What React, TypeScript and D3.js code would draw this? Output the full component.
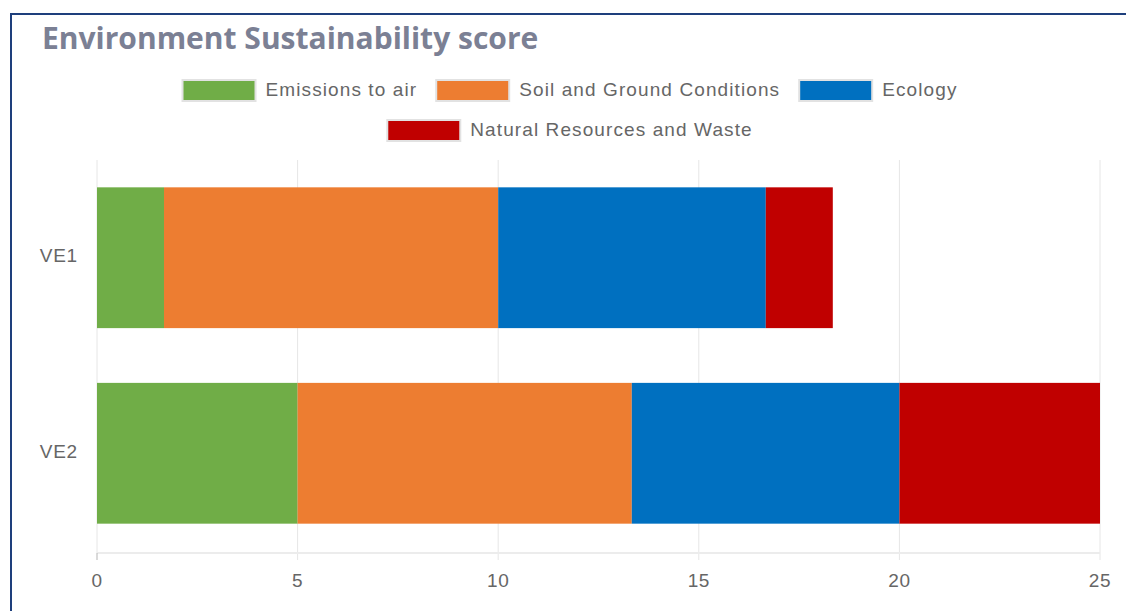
import React, { useEffect, useRef } from 'react';
import * as d3 from 'd3';

const CATEGORIES = ['VE1', 'VE2'];
const SERIES_NAMES = ['Emissions to air', 'Soil and Ground Conditions', 'Ecology', 'Natural Resources and Waste'];
const EMISSIONS = [1.67, 5];
const SOIL = [8.33, 8.33];
const ECOLOGY = [6.67, 6.67];
const NATURAL = [1.67, 5];
const X_TICKS = [0, 5, 10, 15, 20, 25];
const COLORS = ['#70ad47', '#ed7d31', '#0070c0', '#c00000'];

const W = 1126;
const H = 611;
const FONT = 'Arial, "Liberation Sans", Helvetica, sans-serif';

export default function App() {
  const svgRef = useRef<SVGSVGElement>(null);

  useEffect(() => {
    const svg = d3.select(svgRef.current);
    svg.selectAll('*').remove();

    const values = [EMISSIONS, SOIL, ECOLOGY, NATURAL];
    const rows = CATEGORIES.map((c, i) => {
      const o: any = { cat: c };
      SERIES_NAMES.forEach((s, k) => (o[s] = values[k][i]));
      return o;
    });
    const series = d3.stack().keys(SERIES_NAMES)(rows);

    // plot area
    const plot = { left: 97, right: 1100, top: 158, bottom: 553 };

    const x = d3.scaleLinear().domain([0, 25]).range([plot.left, plot.right]);
    const y = d3.scaleBand()
      .domain(CATEGORIES)
      .range([plot.top, plot.bottom])
      .paddingInner(0.28)
      .paddingOuter(0.15);

    svg.append('rect').attr('width', W).attr('height', H).attr('fill', '#fff');

    // frame
    svg.append('rect')
      .attr('x', 11).attr('y', 14)
      .attr('width', W + 40).attr('height', H + 40)
      .attr('fill', 'none')
      .attr('stroke', '#1e3f7c')
      .attr('stroke-width', 2);

    // title
    svg.append('text')
      .attr('x', 42).attr('y', 49)
      .style('font-family', '"Open Sans", sans-serif')
      .style('font-weight', 700)
      .style('font-size', '30px')
      .style('fill', '#7b8094')
      .text('Environment Sustainability score');

    // grid
    const grid = svg.append('g');
    grid.selectAll('line')
      .data(X_TICKS)
      .join('line')
        .attr('x1', d => x(d)).attr('x2', d => x(d))
        .attr('y1', plot.top + 2).attr('y2', d => d === 0 ? plot.bottom : plot.bottom + 7)
        .attr('stroke', '#e6e6e6')
        .attr('stroke-width', 1);
    grid.append('line')
      .attr('x1', plot.left).attr('x2', plot.right)
      .attr('y1', plot.bottom).attr('y2', plot.bottom)
      .attr('stroke', '#ececec')
      .attr('stroke-width', 2);
    grid.append('line')
      .attr('x1', plot.left).attr('x2', plot.left)
      .attr('y1', plot.bottom).attr('y2', plot.bottom + 7)
      .attr('stroke', '#b5b5b5')
      .attr('stroke-width', 1);

    // bars
    svg.append('g')
      .selectAll('g')
      .data(series)
      .join('g')
        .attr('fill', (d, i) => COLORS[i])
      .selectAll('rect')
      .data(d => d)
      .join('rect')
        .attr('x', d => x(d[0]))
        .attr('width', d => x(d[1]) - x(d[0]))
        .attr('y', d => y((d.data as any).cat)!)
        .attr('height', y.bandwidth());

    // x tick labels
    svg.append('g')
      .selectAll('text')
      .data(X_TICKS)
      .join('text')
        .attr('x', d => x(d))
        .attr('y', 587)
        .attr('text-anchor', 'middle')
        .style('font-family', FONT)
        .style('font-size', '19px')
        .style('letter-spacing', '0.6px')
        .style('fill', '#666')
        .text(d => d);

    // y labels
    svg.append('g')
      .selectAll('text')
      .data(CATEGORIES)
      .join('text')
        .attr('x', 78)
        .attr('y', d => y(d)! + y.bandwidth() / 2 - 2)
        .attr('dy', '0.35em')
        .attr('text-anchor', 'end')
        .style('font-family', FONT)
        .style('font-size', '19px')
        .style('letter-spacing', '0.8px')
        .style('fill', '#666')
        .text(d => d);

    // legend
    const boxW = 73, boxH = 21, gap = 10, pad = 19, maxRow = 900, center = 570;
    const rowY = [80, 120];
    const legend = svg.append('g');
    const items = SERIES_NAMES.map((name, i) => {
      const g = legend.append('g');
      g.append('rect')
        .attr('width', boxW).attr('height', boxH)
        .attr('fill', COLORS[i])
        .attr('stroke', '#e2e2e2')
        .attr('stroke-width', 2);
      const t = g.append('text')
        .attr('x', boxW + gap)
        .attr('y', boxH / 2 - 1)
        .attr('dy', '0.35em')
        .style('font-family', FONT)
        .style('font-size', '19px')
        .style('letter-spacing', '1.1px')
        .style('fill', '#666')
        .text(name);
      const tw = (t.node() as SVGTextElement).getComputedTextLength();
      return { g, w: boxW + gap + tw };
    });

    const lines: { g: any; w: number }[][] = [[]];
    let cur = 0;
    items.forEach(it => {
      const add = (lines[lines.length - 1].length ? pad : 0) + it.w;
      if (cur + add > maxRow && lines[lines.length - 1].length) {
        lines.push([it]);
        cur = it.w;
      } else {
        lines[lines.length - 1].push(it);
        cur += add;
      }
    });
    lines.forEach((line, li) => {
      const total = d3.sum(line, d => d.w) + pad * (line.length - 1);
      let xx = center - total / 2;
      line.forEach(it => {
        it.g.attr('transform', `translate(${xx},${rowY[li]})`);
        xx += it.w + pad;
      });
    });
  }, []);

  return (
    <svg
      ref={svgRef}
      width={W}
      height={H}
      style={{ position: 'absolute', left: 0, top: 0, display: 'block' }}
    />
  );
}
